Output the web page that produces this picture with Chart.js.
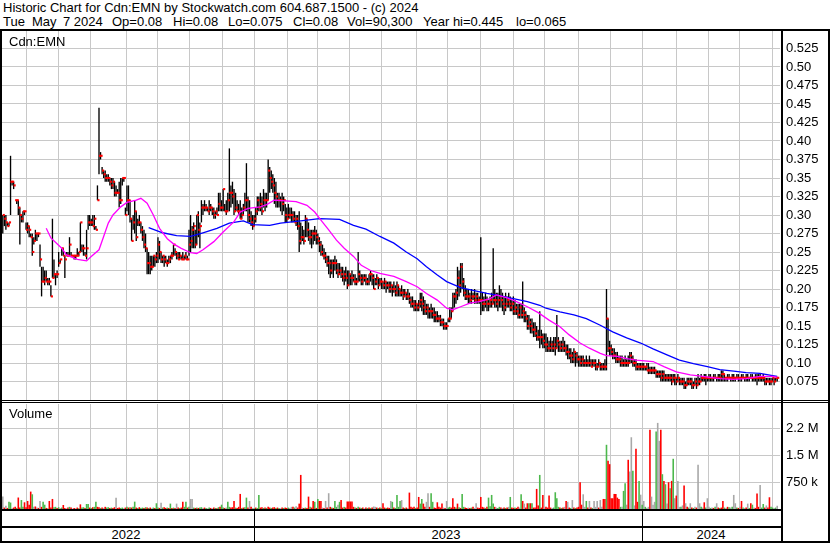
<!DOCTYPE html>
<html>
<head>
<meta charset="utf-8">
<title>Historic Chart Cdn:EMN</title>
<script src="https://cdn.jsdelivr.net/npm/chart.js"></script>
<style>
    body {
        margin: 0;
        background: #fff;
        font-family: 'Liberation Sans', Arial, sans-serif;
        color: #000;
    }
    #wrap {
        position: relative;
        width: 830px;
        height: 543px;
        overflow: hidden;
        background: #fff;
    }
    .txt {
        position: absolute;
        font-size: 13px;
        line-height: 14px;
        white-space: pre;
    }
    .year {
        position: absolute;
        width: 80px;
        text-align: center;
        font-size: 13px;
        line-height: 14px;
        top: 528px;
    }
    .ln {
        position: absolute;
        background: #000;
    }
    canvas {
        position: absolute;
        left: 0;
    }
</style>
</head>
<body>
<div id="wrap">
    <div class="txt" style="left:3px;top:1px">Historic Chart for Cdn:EMN by Stockwatch.com 604.687.1500 - (c) 2024</div>
    <div class="txt" style="left:3px;top:15px">Tue</div>
    <div class="txt" style="left:32px;top:15px">May</div>
    <div class="txt" style="left:63px;top:15px">7 2024</div>
    <div class="txt" style="left:112px;top:15px">Op=0.08</div>
    <div class="txt" style="left:173px;top:15px">Hi=0.08</div>
    <div class="txt" style="left:228px;top:15px">Lo=0.075</div>
    <div class="txt" style="left:293px;top:15px">Cl=0.08</div>
    <div class="txt" style="left:347px;top:15px">Vol=90,300</div>
    <div class="txt" style="left:423px;top:15px">Year hi=0.445</div>
    <div class="txt" style="left:516px;top:15px">lo=0.065</div>

    <canvas id="price" width="830" height="370" style="top:30px"></canvas>
    <canvas id="volume" width="830" height="105" style="top:404px"></canvas>

    <div class="txt" style="left:9px;top:35px">Cdn:EMN</div>
    <div class="txt" style="left:9px;top:407px">Volume</div>

    <div class="year" style="left:86px">2022</div>
    <div class="year" style="left:406px">2023</div>
    <div class="year" style="left:671px">2024</div>

    <!-- frame -->
    <div class="ln" style="left:0;top:29px;width:830px;height:2px"></div>
    <div class="ln" style="left:0;top:29px;width:2px;height:514px"></div>
    <div class="ln" style="left:828px;top:29px;width:2px;height:514px"></div>
    <div class="ln" style="left:781px;top:29px;width:2px;height:514px"></div>
    <div class="ln" style="left:0;top:400px;width:830px;height:1px"></div>
    <div class="ln" style="left:0;top:402px;width:830px;height:1px"></div>
    <div class="ln" style="left:0;top:509px;width:783px;height:2px"></div>
    <div class="ln" style="left:0;top:526px;width:783px;height:2px"></div>
    <div class="ln" style="left:0;top:541px;width:830px;height:2px"></div>
    <div class="ln" style="left:254px;top:509px;width:1px;height:33px"></div>
    <div class="ln" style="left:642px;top:509px;width:1px;height:33px"></div>
</div>

<script>
// daily bars, May 2022 .. May 7 2024, prices in 1/1000 $
const highs = [
    300,300,300,290,290,380,345,345,320,320, 320,310,300,305,305,290,290,285,275,275,
    270,280,275,275,260,230,230,225,225,215, 215,205,295,240,220,225,250,240,255,255,
    245,250,250,270,250,245,245,245,255,250, 290,260,260,250,280,300,300,295,300,300,
    285,340,445,385,365,360,360,355,355,350, 350,350,345,340,335,345,350,350,350,310,
    340,340,320,295,300,320,305,295,300,290, 285,280,275,255,250,245,245,245,245,250,
    270,265,250,245,245,245,240,245,245,250, 260,255,250,250,250,245,250,245,250,245,
    280,300,285,290,280,300,305,290,320,315, 320,315,310,320,315,310,310,305,310,330,
    330,320,335,315,320,330,390,340,345,335, 330,320,315,320,310,315,330,370,325,320,
    305,300,300,310,325,325,330,325,335,330, 330,375,365,360,355,350,345,330,330,325,
    330,325,315,310,315,310,310,305,305,300, 300,305,290,285,280,300,295,290,280,280,
    280,285,280,275,270,265,260,255,250,245, 245,240,240,240,245,240,235,235,230,230,
    225,230,225,225,220,225,220,220,215,250, 225,220,220,220,220,215,220,225,220,220,
    215,220,215,215,215,210,215,210,210,210, 210,205,210,205,210,205,200,205,200,200,
    195,200,195,190,190,185,185,180,185,195, 195,190,185,180,180,175,180,175,175,170,
    170,165,165,160,160,155,155,160,175,175, 195,195,200,230,225,235,235,215,205,200,
    200,195,200,195,200,195,195,190,270,195, 190,195,190,185,190,195,255,200,195,195,
    205,200,195,190,195,190,195,190,185,190, 185,180,180,180,180,210,175,170,165,165,
    160,160,155,155,150,145,170,145,140,140, 140,135,130,135,130,135,135,165,135,130,
    130,135,130,125,125,120,120,115,120,115, 115,110,110,110,110,105,110,105,110,105,
    105,105,105,100,105,100,100,100,105,200, 160,130,125,120,120,115,115,110,110,110,
    105,110,105,110,115,115,110,105,105,100, 100,100,100,100,95,100,100,95,95,95,
    95,90,90,90,90,90,90,85,85,85, 85,85,85,85,80,85,80,80,80,80,
    75,80,80,80,80,75,80,80,85,80, 85,80,85,85,80,85,85,80,85,85,
    80,85,85,90,90,85,80,85,85,80, 85,85,80,85,85,80,85,85,80,85,
    85,80,85,85,80,85,85,85,85,80, 85,80,80,80,80,80,80,80,80,80
];
const lows = [
    275,285,280,285,285,300,340,335,320,315, 300,260,290,290,300,280,275,270,270,245,
    260,265,265,270,230,190,210,205,210,205, 205,190,215,215,205,215,230,235,245,245,
    215,245,245,245,245,245,240,240,245,245, 250,250,245,245,240,280,285,285,285,280,
    280,320,355,375,355,350,345,345,345,340, 335,335,325,325,330,310,315,340,345,300,
    305,300,290,265,280,275,265,285,285,275, 265,255,250,220,220,220,225,230,230,235,
    235,240,235,235,230,235,230,235,235,240, 245,245,240,240,240,240,240,240,240,240,
    245,250,255,255,255,260,270,255,290,300, 305,305,305,300,305,300,295,295,300,305,
    305,305,305,305,300,305,305,310,315,300, 305,305,300,295,295,300,305,305,290,290,
    285,280,285,290,300,305,305,300,310,305, 310,320,330,335,330,315,310,310,310,305,
    300,305,290,290,295,295,290,290,290,285, 280,250,260,265,260,270,270,265,260,255,
    260,265,260,260,250,245,245,240,235,230, 220,215,220,215,225,220,215,220,215,210,
    205,210,200,205,205,205,210,205,205,210, 210,205,205,210,205,205,205,210,205,200,
    205,205,200,205,200,200,200,195,200,195, 195,190,195,190,190,190,190,190,185,190,
    185,185,180,175,175,170,170,170,170,175, 170,165,165,165,160,160,160,160,155,155,
    155,155,150,150,145,145,145,155,155,160, 170,175,180,185,190,195,200,190,185,185,
    180,180,180,185,180,180,180,180,165,170, 170,175,170,170,175,175,180,175,175,170,
    175,175,170,165,170,175,175,170,170,165, 165,165,160,160,160,160,155,155,145,145,
    140,140,135,135,130,130,120,125,120,120, 115,115,115,115,115,115,110,120,115,115,
    115,115,115,110,105,105,100,100,100,95, 100,95,95,95,95,95,95,95,95,95,
    95,95,90,90,95,90,90,90,90,90, 115,110,110,105,105,100,100,100,95,95,
    95,95,95,95,100,100,95,95,90,90, 90,90,90,90,90,90,85,85,85,85,
    85,80,80,80,75,75,75,75,75,75, 75,70,75,70,70,75,70,70,70,65,
    65,70,70,70,65,65,70,65,70,70, 75,75,75,70,75,75,75,75,75,80,
    75,75,75,75,75,75,75,75,80,75, 75,75,75,80,75,75,75,80,75,75,
    75,75,80,75,75,75,70,75,75,75, 75,70,70,75,70,70,75,70,75,75
];
const closes = [
    300,295,290,285,290,345,345,340,320,320, 310,300,295,305,305,280,285,280,270,250,
    265,275,275,275,240,210,210,215,210,210, 210,190,215,220,220,220,235,240,255,245,
    240,245,245,260,245,245,245,245,245,250, 290,255,255,245,255,290,290,290,285,295,
    280,320,380,380,360,355,350,350,350,345, 340,345,330,330,330,320,320,350,350,300,
    320,320,295,265,290,305,270,290,290,280, 270,260,255,235,235,230,230,245,240,245,
    260,250,240,245,240,235,235,240,245,245, 260,250,245,240,245,240,240,245,240,240,
    260,265,280,285,260,300,280,285,310,310, 310,310,305,310,310,305,300,305,300,315,
    310,310,335,305,305,320,330,330,325,305, 310,305,305,295,300,310,320,320,300,295,
    290,285,295,305,320,310,315,305,320,320, 320,360,350,345,340,330,325,320,320,320,
    315,320,300,295,300,300,300,295,290,295, 285,265,270,270,265,295,280,270,270,275,
    275,275,270,265,260,250,245,245,240,235, 235,225,235,235,235,225,220,225,220,215,
    220,215,205,220,215,215,210,210,210,220, 215,210,215,215,210,210,220,220,215,200,
    210,215,205,210,210,205,210,205,205,200, 205,200,200,195,205,200,195,195,190,195,
    190,190,185,180,180,175,180,175,180,185, 180,175,170,175,170,170,170,165,165,160,
    160,160,155,155,150,150,150,160,160,170, 190,190,195,215,205,230,210,195,190,190,
    190,185,190,190,185,190,185,185,185,180, 180,185,180,180,185,180,185,185,180,185,
    190,185,180,175,180,185,180,175,180,170, 175,170,165,175,165,170,165,160,150,155,
    150,145,145,140,135,135,135,135,130,125, 125,120,120,125,120,125,120,130,125,120,
    125,120,120,115,115,110,110,105,115,110, 105,105,100,105,100,100,100,100,100,95,
    100,100,95,95,100,95,95,95,95,160, 120,120,115,110,110,105,105,105,100,100,
    100,100,100,100,110,105,100,100,95,95, 95,95,95,95,95,90,90,90,90,90,
    90,85,85,85,80,85,80,80,80,80, 80,75,80,80,75,80,75,75,75,70,
    70,75,75,75,70,70,75,70,75,75, 80,80,80,80,80,80,80,80,80,80,
    80,80,80,85,85,80,80,80,80,80, 80,80,80,80,80,80,80,80,80,80,
    80,80,80,80,80,80,80,80,80,80, 80,75,75,75,75,75,80,75,80,80
];
// volume in thousands of shares
const volumes = [
    345,40,90,30,205,180,20,40,60,30, 320,40,250,60,187,50,224,120,485,410,
    60,70,40,30,224,60,205,120,30,20, 224,40,280,50,60,30,50,30,40,112,
    30,20,40,60,40,10,30,20,40,20, 130,40,50,30,140,140,40,30,50,60,
    205,60,50,30,40,30,60,40,50,30, 40,30,50,317,30,40,30,40,20,40,
    60,40,50,40,60,205,40,30,50,30, 40,30,50,40,30,40,20,40,30,160,
    40,30,177,40,50,30,40,30,150,30, 40,30,150,40,30,40,205,60,205,40,
    60,280,280,40,30,40,30,40,50,30, 40,30,20,40,30,20,40,30,20,50,
    60,120,40,30,40,205,60,40,50,224, 40,30,60,420,30,40,50,317,40,224,
    60,30,20,40,30,392,40,50,30,40, 30,60,40,30,40,50,30,40,30,20,
    40,30,40,30,40,30,60,60,40,80, 40,150,950,40,30,40,30,345,60,40,
    224,200,30,280,224,224,40,30,224,40, 440,60,40,30,224,60,120,200,250,40,
    60,40,210,210,210,210,60,40,30,60, 40,30,40,20,40,30,40,30,40,70,
    60,40,30,40,30,160,40,30,40,30, 224,200,40,30,392,60,224,250,40,30,
    40,30,457,60,40,60,30,40,336,150, 280,150,60,200,440,60,440,200,40,30,
    187,60,40,150,40,30,224,40,60,40, 300,60,40,150,50,30,420,60,40,30,
    40,30,40,60,30,160,40,30,336,60, 40,30,60,317,80,392,150,60,40,30,
    60,40,30,40,30,40,60,336,40,30, 40,30,60,40,410,224,150,40,160,160,
    160,160,40,40,560,100,950,40,392,40, 60,40,373,40,30,40,467,300,60,40,
    30,40,60,224,200,40,30,250,40,30, 40,60,747,120,410,60,224,40,224,40,
    30,224,60,224,40,250,60,280,280,1790, 1344,1250,300,300,420,420,317,280,60,60,
    504,720,120,1372,1045,2000,1064,100,1680,200, 784,400,120,224,60,30,60,2210,345,120,
    200,2160,2400,1900,2210,970,784,690,150,747, 580,784,1400,300,373,784,60,60,100,653,
    160,60,40,160,40,30,60,40,1232,160, 60,40,187,40,300,60,30,40,30,60,
    160,40,30,40,224,40,30,60,50,40, 60,392,160,40,30,60,224,40,30,40,
    150,30,160,120,40,30,430,60,672,40, 140,40,100,40,327,60,40,30,40,90
];
// r = down day, g = up day, n = unchanged
const volumeDir = (
    'nrnrggnrrg' + 'rrggrrrrrg' + 'nrnrnrggrg' + 'rrrggrgngr' + 'rnrgrnrnrg' +
    'rggrggrgrg' + 'grrgrnrggr' + 'grrnrrggnr' + 'grgrggrgrg' + 'grgrgrngrg' +
    'grngrrgrgr' + 'grnrgrrggr' + 'gnngrgrggn' + 'rgngrnrgrg' + 'rggrnggrrr' +
    'grrrgrggrn' + 'rngrggrrgr' + 'grrgrrgrgn' + 'rgrrgnnrgn' + 'rrrnrgrrgr' +
    'rgrgrrnrnr' + 'nrgrggngrr' + 'grrrrrrgrg' + 'rgrnrgrgrn' + 'nrgrgrrgrr' +
    'ngrggggnrg' + 'rnrrrrgrrg' + 'grrnnrggrr' + 'rrrrnrnggr' + 'rrgrgrggrr' +
    'nrgrnnrrrr' + 'rgrggggrng' + 'grnrgrngrr' + 'grrngrnrrg' + 'rgrrrrgrrn' +
    'rrrrnggggr' + 'grnrnrgnrg' + 'rrrrnngrnr' + 'gnnnrnnrrg' + 'rrrrrrrrgn' +
    'ggnrnngnrr' + 'gngngnnrnn' + 'ngnnrgrgnr' + 'grgnrnngnr' + 'nrgnrgnrnn' +
    'gnrgnngnrg' + 'nrgrrgnrgn' + 'gnngrnrgnr' + 'ngrgnrrrng' + 'grnrrggngn'
).split('');

// moving averages: [bar, price]
const maFast = [
    [28,0.282],[31,0.269],[38,0.255],[41,0.246],[48,0.240],[54,0.238],[57,0.244],[62,0.253],
    [65,0.271],[68,0.289],[71,0.300],[76,0.311],[80,0.317],[86,0.320],[89,0.3225],[93,0.316],
    [97,0.300],[101,0.282],[106,0.268],[110,0.261],[115,0.255],[121,0.249],[125,0.248],[129,0.253],
    [136,0.264],[142,0.277],[149,0.291],[153,0.304],[158,0.309],[166,0.311],[170,0.314],[175,0.320],
    [182,0.319],[189,0.318],[196,0.313],[201,0.304],[205,0.293],[210,0.280],[215,0.266],[220,0.255],
    [226,0.244],[231,0.232],[237,0.225],[243,0.221],[252,0.217],[260,0.210],[267,0.203],[273,0.194],
    [280,0.185],[286,0.174],[290,0.172],[295,0.176],[301,0.181],[307,0.183],[314,0.187],[318,0.192],
    [325,0.188],[331,0.183],[338,0.176],[345,0.168],[352,0.158],[359,0.149],[365,0.138],[372,0.127],
    [378,0.120],[385,0.113],[389,0.110],[396,0.109],[402,0.106],[408,0.104],[419,0.102],[426,0.095],
    [434,0.088],[443,0.084],[451,0.082],[462,0.079],[471,0.078],[479,0.079],[488,0.082],[496,0.082],
    [499,0.081]
];
const maSlow = [
    [94,0.283],[103,0.276],[112,0.272],[121,0.271],[129,0.276],[138,0.282],[146,0.289],[155,0.292],
    [161,0.287],[172,0.286],[179,0.289],[192,0.292],[204,0.295],[217,0.294],[226,0.286],[234,0.281],
    [243,0.271],[252,0.262],[260,0.250],[267,0.241],[273,0.230],[280,0.219],[286,0.210],[295,0.202],
    [303,0.198],[312,0.194],[320,0.191],[329,0.187],[338,0.183],[346,0.178],[350,0.174],[359,0.169],
    [368,0.165],[376,0.160],[385,0.151],[393,0.142],[402,0.134],[411,0.127],[419,0.119],[428,0.111],
    [436,0.104],[445,0.099],[454,0.095],[462,0.091],[471,0.089],[479,0.087],[488,0.086],[496,0.083],
    [499,0.082]
];

// month gridlines (in bar units) and axis ticks
const monthLines = [15.6,36.2,56.8,79.4,99.4,120.6,141.3,161.9,183.3,202.7,223.7,243.9,
                    266.3,286.4,307.9,329.4,348.9,370.8,391.3,412.1,434.2,454.6,475,495.8];
const volTicks = [750, 1500, 2250];
const volTickLabels = ['750 k', '1.5 M', '2.2 M'];

const dirColors = { r: '#ff0000', g: '#4cb84c', n: '#a8a8a8' };
const gridColor = '#c8c8c8';
const tickFont = { family: "'Liberation Sans', Arial, sans-serif", size: 13 };

function xScale() {
    return {
        type: 'linear',
        min: -0.5,
        max: 500.8,
        offset: false,
        grid: { color: gridColor, drawTicks: false, offset: false },
        border: { display: false },
        ticks: { display: false },
        afterBuildTicks: s => { s.ticks = monthLines.map(v => ({ value: v })); },
        afterFit: s => { s.height = 0; s.paddingLeft = 0; s.paddingRight = 0; }
    };
}

function fmtPrice(v) {
    if (v < 0.07 || v > 0.53) return '';
    const s = v.toFixed(3);
    return s.endsWith('0') ? v.toFixed(2) : s;
}

function fitRightAxis(s) {
    s.width = 50;
    s.paddingTop = 0;
    s.paddingBottom = 0;
}

new Chart(document.getElementById('price'), {
    type: 'bar',
    data: {
        datasets: [
            {
                type: 'line',
                data: maFast.map(p => ({ x: p[0], y: p[1] })),
                borderColor: '#ff00ff',
                borderWidth: 1.3,
                pointRadius: 0,
                tension: 0,
                order: 1
            },
            {
                type: 'line',
                data: maSlow.map(p => ({ x: p[0], y: p[1] })),
                borderColor: '#0000ff',
                borderWidth: 1.3,
                pointRadius: 0,
                tension: 0,
                order: 1
            },
            {
                type: 'scatter',
                data: closes.map((c, i) => ({ x: i + 0.65, y: c / 1000 })),
                pointStyle: 'rect',
                pointRadius: 1.5,
                backgroundColor: '#ff0000',
                borderWidth: 0,
                order: 2
            },
            {
                type: 'bar',
                data: highs.map((h, i) => ({ x: i, y: [lows[i] / 1000, h / 1000] })),
                backgroundColor: '#000',
                barThickness: 1.35,
                inflateAmount: 0,
                order: 3
            }
        ]
    },
    options: {
        responsive: false,
        animation: false,
        devicePixelRatio: 1,
        layout: { autoPadding: false, padding: { left: 2, right: 0, top: 0, bottom: 0 } },
        plugins: { legend: { display: false }, tooltip: { enabled: false } },
        scales: {
            x: xScale(),
            y: {
                position: 'right',
                min: 0.05,
                max: 0.55,
                grid: { color: gridColor, drawTicks: false },
                border: { display: false },
                ticks: {
                    stepSize: 0.025,
                    autoSkip: false,
                    padding: 6,
                    color: '#000',
                    font: tickFont,
                    callback: v => fmtPrice(v)
                },
                afterFit: fitRightAxis
            }
        }
    }
});

new Chart(document.getElementById('volume'), {
    type: 'bar',
    data: {
        datasets: [{
            data: volumes.map((v, i) => ({ x: i, y: v })),
            backgroundColor: volumeDir.map(d => dirColors[d]),
            barThickness: 1.6,
            inflateAmount: 0
        }]
    },
    options: {
        responsive: false,
        animation: false,
        devicePixelRatio: 1,
        layout: { autoPadding: false, padding: { left: 2, right: 0, top: 0, bottom: 0 } },
        plugins: { legend: { display: false }, tooltip: { enabled: false } },
        scales: {
            x: xScale(),
            y: {
                position: 'right',
                min: 0,
                max: 2927,
                grid: { color: gridColor, drawTicks: false },
                border: { display: false },
                afterBuildTicks: s => { s.ticks = volTicks.map(v => ({ value: v })); },
                ticks: {
                    autoSkip: false,
                    padding: 6,
                    color: '#000',
                    font: tickFont,
                    callback: (v, i) => volTickLabels[i]
                },
                afterFit: fitRightAxis
            }
        }
    }
});
</script>
</body>
</html>
